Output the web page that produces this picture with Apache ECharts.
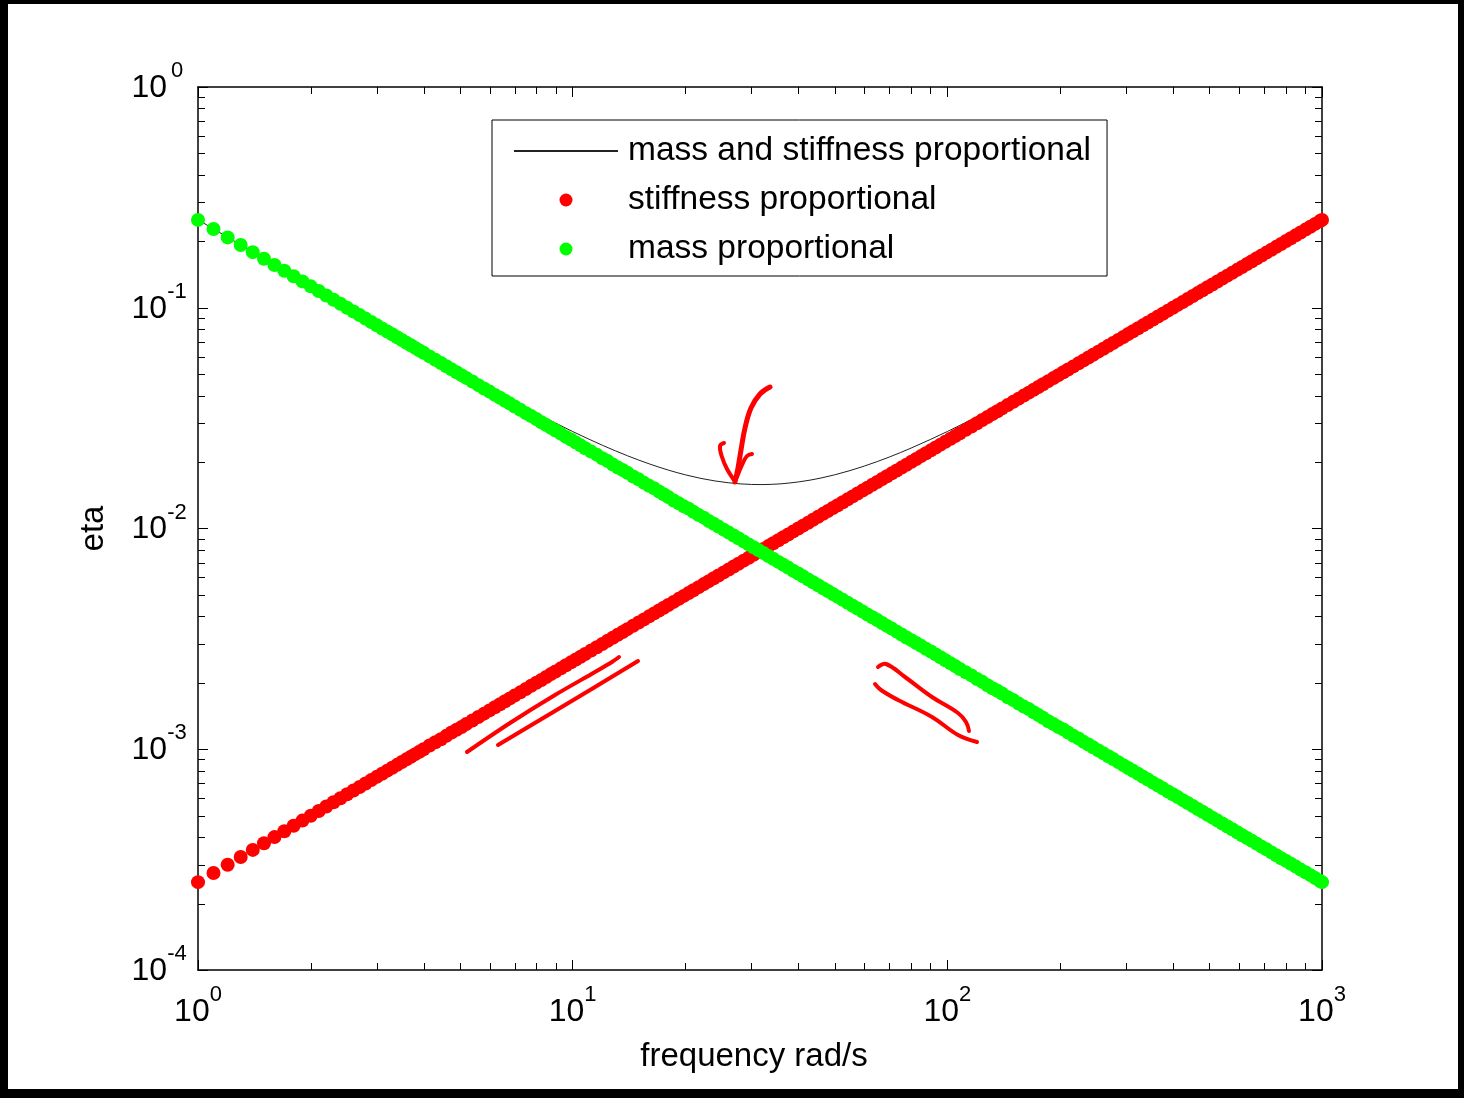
<!DOCTYPE html>
<html>
<head>
<meta charset="utf-8">
<script src="https://cdn.jsdelivr.net/npm/echarts@6/dist/echarts.min.js"></script>
<style>
  html, body { margin: 0; padding: 0; background: #fff; }
  #chart { width: 1464px; height: 1098px; }
</style>
</head>
<body>
<div id="chart"></div>
<script>
var FONT = "'Liberation Sans', Arial, Helvetica, sans-serif";

// frequency rad/s (shared by the two marker series)
var freq = [
  1.0, 1.1, 1.2, 1.3, 1.4, 1.5, 1.6, 1.7, 1.8, 1.9, 2.0, 2.1, 2.2, 2.3, 2.4, 2.5, 2.6, 2.7, 2.8, 2.9,
  3.0, 3.1, 3.2, 3.3, 3.4, 3.5, 3.6, 3.7, 3.8, 3.9, 4.0, 4.15, 4.3, 4.45, 4.6, 4.75, 4.9, 5.05, 5.2, 5.4,
  5.6, 5.8, 6.0, 6.2, 6.4, 6.6, 6.8, 7.0, 7.25, 7.5, 7.75, 8.0, 8.25, 8.5, 8.75, 9.0, 9.3, 9.6, 9.9,
  10.2, 10.5, 10.8, 11.2, 11.6, 12, 12.4, 12.8, 13.2, 13.6, 14, 14.5, 15, 15.5, 16, 16.5, 17, 17.5, 18, 18.6,
  19.2, 19.8, 20.4, 21, 21.7, 22.4, 23.1, 23.8, 24.5, 25.3, 26.1, 26.9, 27.7, 28.6, 29.5, 30.4, 31.3, 32.3, 33.3, 34.3,
  35.4, 36.5, 37.6, 38.8, 40, 41.2, 42.5, 43.8, 45.2, 46.6, 48, 49.5, 51, 52.6, 54.2, 55.9, 57.6, 59.4, 61.2, 63.1,
  65, 67, 69, 71.1, 73.3, 75.5, 77.8, 80.2, 82.6, 85.1, 87.7, 90.4, 93.1, 95.9, 98.8,
  102, 105, 108, 112, 116, 120, 124, 128, 132, 136, 140, 145, 150, 155, 160, 165, 170, 175, 180, 186,
  192, 198, 204, 210, 217, 224, 231, 238, 245, 253, 261, 269, 277, 286, 295, 304, 313, 323, 333, 343,
  354, 365, 376, 388, 400, 412, 425, 438, 452, 466, 480, 495, 510, 526, 542, 559, 576, 594, 612, 631,
  650, 670, 690, 711, 733, 755, 778, 802, 826, 851, 877, 904, 931, 959, 988, 1000
];

// eta, stiffness proportional (red)
var etaStiffness = [
  2.5e-4, 2.75e-4, 3.0e-4, 3.25e-4, 3.5e-4, 3.75e-4, 4.0e-4, 4.25e-4, 4.5e-4, 4.75e-4, 5.0e-4, 5.25e-4, 5.5e-4, 5.75e-4, 6.0e-4, 6.25e-4, 6.5e-4, 6.75e-4, 7.0e-4, 7.25e-4,
  7.5e-4, 7.75e-4, 8.0e-4, 8.25e-4, 8.5e-4, 8.75e-4, 9.0e-4, 9.25e-4, 9.5e-4, 9.75e-4, 1.0e-3, 1.04e-3, 1.075e-3, 1.11e-3, 1.15e-3, 1.19e-3, 1.225e-3, 1.26e-3, 1.3e-3, 1.35e-3,
  1.4e-3, 1.45e-3, 1.5e-3, 1.55e-3, 1.6e-3, 1.65e-3, 1.7e-3, 1.75e-3, 1.81e-3, 1.875e-3, 1.94e-3, 2.0e-3, 2.06e-3, 2.125e-3, 2.19e-3, 2.25e-3, 2.325e-3, 2.4e-3, 2.475e-3,
  2.55e-3, 2.625e-3, 2.7e-3, 2.8e-3, 2.9e-3, 3.0e-3, 3.1e-3, 3.2e-3, 3.3e-3, 3.4e-3, 3.5e-3, 3.625e-3, 3.75e-3, 3.875e-3, 4.0e-3, 4.125e-3, 4.25e-3, 4.375e-3, 4.5e-3, 4.65e-3,
  4.8e-3, 4.95e-3, 5.1e-3, 5.25e-3, 5.425e-3, 5.6e-3, 5.775e-3, 5.95e-3, 6.125e-3, 6.325e-3, 6.525e-3, 6.725e-3, 6.925e-3, 7.15e-3, 7.375e-3, 7.6e-3, 7.825e-3, 8.075e-3, 8.325e-3, 8.575e-3,
  8.85e-3, 9.125e-3, 9.4e-3, 9.7e-3, 0.01, 0.0103, 0.010625, 0.01095, 0.0113, 0.01165, 0.012, 0.012375, 0.01275, 0.01315, 0.01355, 0.013975, 0.0144, 0.01485, 0.0153, 0.015775,
  0.01625, 0.01675, 0.01725, 0.017775, 0.018325, 0.018875, 0.01945, 0.02005, 0.02065, 0.021275, 0.021925, 0.0226, 0.023275, 0.023975, 0.0247,
  0.0255, 0.02625, 0.027, 0.028, 0.029, 0.03, 0.031, 0.032, 0.033, 0.034, 0.035, 0.03625, 0.0375, 0.03875, 0.04, 0.04125, 0.0425, 0.04375, 0.045, 0.0465,
  0.048, 0.0495, 0.051, 0.0525, 0.05425, 0.056, 0.05775, 0.0595, 0.06125, 0.06325, 0.06525, 0.06725, 0.06925, 0.0715, 0.07375, 0.076, 0.07825, 0.08075, 0.08325, 0.08575,
  0.0885, 0.09125, 0.094, 0.097, 0.1, 0.103, 0.10625, 0.1095, 0.113, 0.1165, 0.12, 0.12375, 0.1275, 0.1315, 0.1355, 0.13975, 0.144, 0.1485, 0.153, 0.15775,
  0.1625, 0.1675, 0.1725, 0.17775, 0.18325, 0.18875, 0.1945, 0.2005, 0.2065, 0.21275, 0.21925, 0.226, 0.23275, 0.23975, 0.247, 0.25
];

// eta, mass proportional (green)
var etaMass = [
  0.25, 0.2273, 0.2083, 0.1923, 0.1786, 0.1667, 0.1563, 0.1471, 0.1389, 0.1316, 0.125, 0.119, 0.1136, 0.1087, 0.1042, 0.1, 0.0962, 0.0926, 0.0893, 0.0862,
  0.0833, 0.0806, 0.0781, 0.0758, 0.0735, 0.0714, 0.0694, 0.0676, 0.0658, 0.0641, 0.0625, 0.0602, 0.0581, 0.0562, 0.0543, 0.0526, 0.051, 0.0495, 0.0481, 0.0463,
  0.0446, 0.0431, 0.0417, 0.0403, 0.0391, 0.0379, 0.0368, 0.0357, 0.0345, 0.0333, 0.0323, 0.0313, 0.0303, 0.0294, 0.0286, 0.0278, 0.0269, 0.026, 0.0253,
  0.0245, 0.0238, 0.0231, 0.0223, 0.0216, 0.0208, 0.0202, 0.0195, 0.0189, 0.0184, 0.0179, 0.0172, 0.0167, 0.0161, 0.0156, 0.0152, 0.0147, 0.0143, 0.0139, 0.0134,
  0.013, 0.0126, 0.0123, 0.0119, 0.0115, 0.0112, 0.0108, 0.0105, 0.0102, 0.00988, 0.00958, 0.00929, 0.00903, 0.00874, 0.00847, 0.00822, 0.00799, 0.00774, 0.00751, 0.00729,
  0.00706, 0.00685, 0.00665, 0.00644, 0.00625, 0.00607, 0.00588, 0.00571, 0.00553, 0.00536, 0.00521, 0.00505, 0.0049, 0.00475, 0.00461, 0.00447, 0.00434, 0.00421, 0.00408, 0.00396,
  0.00385, 0.00373, 0.00362, 0.00352, 0.00341, 0.00331, 0.00321, 0.00312, 0.00303, 0.00294, 0.00285, 0.00277, 0.00269, 0.00261, 0.00253,
  0.00245, 0.00238, 0.00231, 0.00223, 0.00216, 0.00208, 0.00202, 0.00195, 0.00189, 0.00184, 0.00179, 0.00172, 0.00167, 0.00161, 0.00156, 0.00152, 0.00147, 0.00143, 0.00139, 0.00134,
  0.0013, 0.00126, 0.00123, 0.00119, 0.00115, 0.00112, 0.00108, 0.00105, 0.00102, 0.000988, 0.000958, 0.000929, 0.000903, 0.000874, 0.000847, 0.000822, 0.000799, 0.000774, 0.000751, 0.000729,
  0.000706, 0.000685, 0.000665, 0.000644, 0.000625, 0.000607, 0.000588, 0.000571, 0.000553, 0.000536, 0.000521, 0.000505, 0.00049, 0.000475, 0.000461, 0.000447, 0.000434, 0.000421, 0.000408, 0.000396,
  0.000385, 0.000373, 0.000362, 0.000352, 0.000341, 0.000331, 0.000321, 0.000312, 0.000303, 0.000294, 0.000285, 0.000277, 0.000269, 0.000261, 0.000253, 0.00025
];

// black line: mass and stiffness proportional
var combFreq = [1, 1.5, 2, 3, 4, 5, 6, 7, 8, 9, 10, 11, 12, 13, 14, 15, 16, 17, 18, 19, 20, 22, 24, 26, 28, 30, 32, 34, 36, 38,
  40, 43, 46, 50, 55, 60, 65, 70, 75, 80, 90, 100, 110, 120, 140, 160, 200, 250, 300, 400, 500, 700, 1000];
var etaComb = [0.25025, 0.16704, 0.1255, 0.08408, 0.0635, 0.05125, 0.04317, 0.03746, 0.03325, 0.03003, 0.0275, 0.02548, 0.02383,
  0.02248, 0.02136, 0.02042, 0.01963, 0.01896, 0.01839, 0.01791, 0.0175, 0.01686, 0.01642, 0.01612, 0.01593, 0.01583, 0.01581,
  0.01585, 0.01594, 0.01608, 0.01625, 0.01656, 0.01693, 0.0175, 0.0183, 0.01917, 0.0201, 0.02107, 0.02208, 0.02313, 0.02528,
  0.0275, 0.02977, 0.03208, 0.03679, 0.04156, 0.05125, 0.0635, 0.07583, 0.10063, 0.1255, 0.17536, 0.25025];

// minor tick positions (log axes)
var xMinorTicks = [2, 3, 4, 5, 6, 7, 8, 9, 20, 30, 40, 50, 60, 70, 80, 90, 200, 300, 400, 500, 600, 700, 800, 900];
var yMinorTicks = [2e-4, 3e-4, 4e-4, 5e-4, 6e-4, 7e-4, 8e-4, 9e-4, 2e-3, 3e-3, 4e-3, 5e-3, 6e-3, 7e-3, 8e-3, 9e-3,
  0.02, 0.03, 0.04, 0.05, 0.06, 0.07, 0.08, 0.09, 0.2, 0.3, 0.4, 0.5, 0.6, 0.7, 0.8, 0.9];

var seriesNames = ['mass and stiffness proportional', 'stiffness proportional', 'mass proportional'];

function zip(a, b) {
  return a.map(function (v, i) { return [v, b[i]]; });
}

function powerFormatter(v) {
  return '{b|10}{s|' + Math.round(Math.log10(v)) + '}';
}

function powerRich(expWidth) {
  var s = { fontSize: 22, lineHeight: 22, verticalAlign: 'top', fontFamily: FONT, color: '#000' };
  if (expWidth) { s.width = expWidth; s.align = 'left'; }
  return {
    b: { fontSize: 32, lineHeight: 44, verticalAlign: 'bottom', fontFamily: FONT, color: '#000' },
    s: s
  };
}

function minorTicks(horizontal) {
  return function (params, api) {
    var cs = params.coordSys;
    var p = api.coord([api.value(0), api.value(1)]);
    var st = { stroke: '#000', lineWidth: 1 };
    var len = 7;
    if (horizontal) {
      var x = Math.round(p[0]) + 0.5;
      return { type: 'group', children: [
        { type: 'line', shape: { x1: x, y1: cs.y + cs.height, x2: x, y2: cs.y + cs.height - len }, style: st },
        { type: 'line', shape: { x1: x, y1: cs.y, x2: x, y2: cs.y + len }, style: st }
      ] };
    }
    var y = Math.round(p[1]) + 0.5;
    return { type: 'group', children: [
      { type: 'line', shape: { x1: cs.x, y1: y, x2: cs.x + len, y2: y }, style: st },
      { type: 'line', shape: { x1: cs.x + cs.width, y1: y, x2: cs.x + cs.width - len, y2: y }, style: st }
    ] };
  };
}

var axisLineStyle = { color: '#000', width: 1.5 };
var majorTick = { inside: true, length: 10, lineStyle: { color: '#000', width: 1 } };

var chart = echarts.init(document.getElementById('chart'), null, { renderer: 'canvas' });

var redPen = { stroke: '#ff0000', lineWidth: 4, lineCap: 'round', lineJoin: 'round', fill: null };

chart.setOption({
  backgroundColor: '#fff',
  animation: false,
  grid: { left: 198, right: 142, top: 87, bottom: 128, outerBoundsMode: 'none' },
  legend: {
    data: [
      { name: seriesNames[0], itemStyle: { opacity: 0 } },
      { name: seriesNames[1] },
      { name: seriesNames[2] }
    ],
    orient: 'vertical',
    left: 492,
    top: 120,
    padding: [14, 16, 10, 21],
    itemGap: 15,
    itemWidth: 104,
    itemHeight: 13,
    borderColor: '#000',
    borderWidth: 1,
    backgroundColor: '#fff',
    textStyle: { fontSize: 33.5, lineHeight: 34, fontFamily: FONT, color: '#000', padding: [0, 0, 0, 5] }
  },
  xAxis: [{
    type: 'log', logBase: 10, min: 1, max: 1000, splitNumber: 3,
    name: 'frequency rad/s', nameLocation: 'middle', nameGap: 70,
    nameTextStyle: { fontSize: 33, fontFamily: FONT, color: '#000', padding: [0, 12, 0, 0] },
    axisLine: { lineStyle: axisLineStyle },
    axisTick: majorTick,
    splitLine: { show: false },
    minorTick: { show: false },
    axisLabel: { margin: 14, formatter: powerFormatter, rich: powerRich(0), showMinLabel: true, showMaxLabel: true }
  }, {
    type: 'log', logBase: 10, min: 1, max: 1000, splitNumber: 3, position: 'top',
    axisLine: { lineStyle: axisLineStyle },
    axisTick: majorTick,
    splitLine: { show: false },
    axisLabel: { show: false }
  }],
  yAxis: [{
    type: 'log', logBase: 10, min: 1e-4, max: 1, splitNumber: 4,
    name: 'eta', nameLocation: 'middle', nameGap: 88, nameRotate: 90,
    nameTextStyle: { fontSize: 33, fontFamily: FONT, color: '#000' },
    axisLine: { lineStyle: axisLineStyle },
    axisTick: majorTick,
    splitLine: { show: false },
    axisLabel: { margin: 11, padding: [0, 0, 10, 0], formatter: powerFormatter, rich: powerRich(20), showMinLabel: true, showMaxLabel: true }
  }, {
    type: 'log', logBase: 10, min: 1e-4, max: 1, splitNumber: 4, position: 'right',
    axisLine: { lineStyle: axisLineStyle },
    axisTick: majorTick,
    splitLine: { show: false },
    axisLabel: { show: false }
  }],
  series: [{
    name: seriesNames[0],
    type: 'line',
    data: zip(combFreq, etaComb),
    showSymbol: false,
    symbol: 'none',
    color: '#000',
    lineStyle: { color: '#222', width: 1 },
    z: 2
  }, {
    name: seriesNames[1],
    type: 'scatter',
    data: zip(freq, etaStiffness),
    symbol: 'circle',
    symbolSize: 14,
    clip: false,
    itemStyle: { color: '#ff0000', opacity: 1 },
    z: 3
  }, {
    name: seriesNames[2],
    type: 'scatter',
    data: zip(freq, etaMass),
    symbol: 'circle',
    symbolSize: 14,
    clip: false,
    itemStyle: { color: '#00ff00', opacity: 1 },
    z: 4
  }, {
    type: 'custom',
    silent: true,
    data: xMinorTicks.map(function (v) { return [v, 1e-3]; }),
    renderItem: minorTicks(true),
    z: 1
  }, {
    type: 'custom',
    silent: true,
    data: yMinorTicks.map(function (v) { return [10, v]; }),
    renderItem: minorTicks(false),
    z: 1
  }],
  graphic: [
    // hand-drawn red annotations
    { type: 'polyline', z: 100, shape: { smooth: 0.4, points: [[770, 387], [760, 394], [751, 408], [745, 428], [741, 450], [738, 468], [735, 482]] },
      style: Object.assign({}, redPen, { lineWidth: 5 }) },
    { type: 'polyline', z: 100, shape: { smooth: 0.4, points: [[724, 443], [720, 446], [722, 457], [727, 469], [734, 480]] }, style: redPen },
    { type: 'polyline', z: 100, shape: { smooth: 0.4, points: [[752, 454], [747, 456], [742, 465], [737, 477]] }, style: redPen },
    { type: 'polyline', z: 100, shape: { smooth: 0.3, points: [[467, 752], [510, 723], [555, 695], [595, 672], [612, 662], [619, 657]] }, style: redPen },
    { type: 'polyline', z: 100, shape: { smooth: 0.3, points: [[498, 745], [560, 708], [638, 661]] }, style: redPen },
    { type: 'polyline', z: 100, shape: { smooth: 0.4, points: [[878, 667], [886, 664], [905, 677], [932, 697], [958, 713], [966, 722], [969, 731]] }, style: redPen },
    { type: 'polyline', z: 100, shape: { smooth: 0.4, points: [[875, 684], [881, 690], [898, 700], [932, 717], [958, 735], [977, 742]] }, style: redPen },
    // black frame of the picture
    { type: 'rect', z: 100, shape: { x: 0, y: 0, width: 1464, height: 4 }, style: { fill: '#000' } },
    { type: 'rect', z: 100, shape: { x: 0, y: 0, width: 8, height: 1098 }, style: { fill: '#000' } },
    { type: 'rect', z: 100, shape: { x: 1458, y: 0, width: 6, height: 1098 }, style: { fill: '#000' } },
    { type: 'rect', z: 100, shape: { x: 0, y: 1089, width: 1464, height: 9 }, style: { fill: '#000' } }
  ]
});
</script>
</body>
</html>
